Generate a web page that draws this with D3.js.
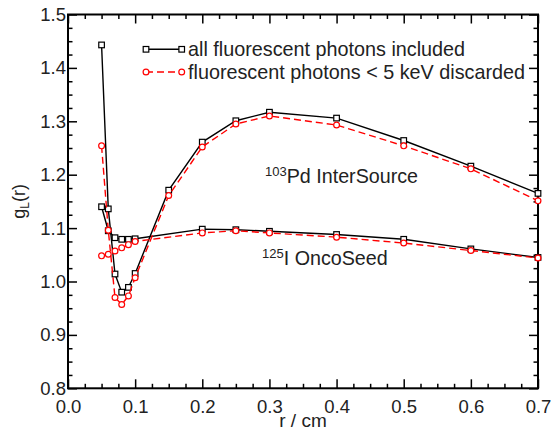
<!DOCTYPE html>
<html>
<head>
<meta charset="utf-8">
<script src="https://cdn.jsdelivr.net/npm/d3@7"></script>
<style>
  html, body { margin: 0; padding: 0; background: #fff; }
  svg { display: block; font-family: "Liberation Sans", Arial, Helvetica, sans-serif; }
</style>
</head>
<body>
<svg id="chart" width="553" height="433"></svg>
<script>
// Radial dose function g_L(r) for two brachytherapy sources
const pdR       = [0.05, 0.06, 0.07, 0.08, 0.09, 0.10, 0.15, 0.20, 0.25, 0.30, 0.40, 0.50, 0.60, 0.70];
const pdAll     = [1.443, 1.136, 1.014, 0.980, 0.989, 1.015, 1.171, 1.261, 1.301, 1.317, 1.306, 1.264, 1.216, 1.165];
const pdCut     = [1.254, 1.096, 0.970, 0.957, 0.973, 1.007, 1.161, 1.252, 1.295, 1.310, 1.293, 1.254, 1.211, 1.151];

const iR        = [0.05, 0.06, 0.07, 0.08, 0.09, 0.10, 0.20, 0.25, 0.30, 0.40, 0.50, 0.60, 0.70];
const iAll      = [1.140, 1.095, 1.082, 1.079, 1.079, 1.080, 1.098, 1.097, 1.094, 1.088, 1.079, 1.061, 1.045];
const iCut      = [1.048, 1.051, 1.057, 1.063, 1.069, 1.075, 1.091, 1.095, 1.091, 1.083, 1.072, 1.058, 1.044];

const xTicks    = [0.0, 0.1, 0.2, 0.3, 0.4, 0.5, 0.6, 0.7];
const yTicks    = [0.8, 0.9, 1.0, 1.1, 1.2, 1.3, 1.4, 1.5];
const legendLabels = ["all fluorescent photons included", "fluorescent photons < 5 keV discarded"];

const svg = d3.select("#chart");
const pl = 68, pr = 538, pt = 14.5, pb = 388.3;

const x = d3.scaleLinear().domain([0, 0.7]).range([pl, pr]);
const y = d3.scaleLinear().domain([0.8, 1.5]).range([pb, pt]);

const minorX = d3.range(0, 0.7001, 0.025).filter(v => Math.abs(v * 10 - Math.round(v * 10)) > 1e-6);
const minorY = d3.range(0.8, 1.5001, 0.025).filter(v => Math.abs(v * 10 - Math.round(v * 10)) > 1e-6);

const tickFont = "18.5px";
const fmt = d3.format(".1f");

function styleAxis(g) {
  g.select(".domain").remove();
  g.selectAll(".tick line").attr("stroke", "#000").attr("stroke-width", 1.5);
}

// bottom axis (labels + major ticks inward)
svg.append("g").attr("transform", `translate(0,${pb})`)
  .call(d3.axisBottom(x).tickValues(xTicks).tickFormat(fmt).tickSizeInner(-9).tickSizeOuter(0).tickPadding(12))
  .call(styleAxis)
  .call(g => g.selectAll("text").attr("font-size", tickFont).attr("fill", "#222").attr("font-family", "Liberation Sans, Arial, sans-serif"));
svg.append("g").attr("transform", `translate(0,${pb})`)
  .call(d3.axisBottom(x).tickValues(minorX).tickFormat("").tickSizeInner(-4.5).tickSizeOuter(0))
  .call(styleAxis);
// top axis
svg.append("g").attr("transform", `translate(0,${pt})`)
  .call(d3.axisTop(x).tickValues(xTicks).tickFormat("").tickSizeInner(-9).tickSizeOuter(0))
  .call(styleAxis);
svg.append("g").attr("transform", `translate(0,${pt})`)
  .call(d3.axisTop(x).tickValues(minorX).tickFormat("").tickSizeInner(-4.5).tickSizeOuter(0))
  .call(styleAxis);
// left axis
svg.append("g").attr("transform", `translate(${pl},0)`)
  .call(d3.axisLeft(y).tickValues(yTicks).tickFormat(fmt).tickSizeInner(-9).tickSizeOuter(0).tickPadding(2))
  .call(styleAxis)
  .call(g => g.selectAll("text").attr("font-size", tickFont).attr("fill", "#222").attr("font-family", "Liberation Sans, Arial, sans-serif"));
svg.append("g").attr("transform", `translate(${pl},0)`)
  .call(d3.axisLeft(y).tickValues(minorY).tickFormat("").tickSizeInner(-4.5).tickSizeOuter(0))
  .call(styleAxis);
// right axis
svg.append("g").attr("transform", `translate(${pr},0)`)
  .call(d3.axisRight(y).tickValues(yTicks).tickFormat("").tickSizeInner(-9).tickSizeOuter(0))
  .call(styleAxis);
svg.append("g").attr("transform", `translate(${pr},0)`)
  .call(d3.axisRight(y).tickValues(minorY).tickFormat("").tickSizeInner(-4.5).tickSizeOuter(0))
  .call(styleAxis);

// frame
svg.append("rect")
  .attr("x", pl).attr("y", pt)
  .attr("width", pr - pl).attr("height", pb - pt)
  .attr("fill", "none").attr("stroke", "#000").attr("stroke-width", 2);

// axis titles
svg.append("text")
  .attr("x", (pl + pr) / 2).attr("y", 427)
  .attr("text-anchor", "middle").attr("font-size", "19px").attr("fill", "#222")
  .text("r / cm");

const yl = svg.append("text")
  .attr("transform", `translate(25,${(pt + pb) / 2}) rotate(-90)`)
  .attr("text-anchor", "middle").attr("font-size", "18px").attr("fill", "#222");
yl.append("tspan").text("g");
yl.append("tspan").attr("font-size", "12px").attr("dy", 4).text("L");
yl.append("tspan").attr("dy", -4).text("(r)");

// series drawing helpers
const line = d3.line().x(d => x(d[0])).y(d => y(d[1]));

function drawAll(rs, vs) {
  const pts = rs.map((r, i) => [r, vs[i]]);
  svg.append("path").datum(pts).attr("d", line)
    .attr("fill", "none").attr("stroke", "#000").attr("stroke-width", 1.4);
  svg.append("g").selectAll("rect").data(pts).join("rect")
    .attr("x", d => x(d[0]) - 2.8).attr("y", d => y(d[1]) - 2.8)
    .attr("width", 5.6).attr("height", 5.6)
    .attr("fill", "#fff").attr("stroke", "#000").attr("stroke-width", 1.2);
}
function drawCut(rs, vs) {
  const pts = rs.map((r, i) => [r, vs[i]]);
  svg.append("path").datum(pts).attr("d", line)
    .attr("fill", "none").attr("stroke", "#f00").attr("stroke-width", 1.4)
    .attr("stroke-dasharray", "7,4");
  svg.append("g").selectAll("circle").data(pts).join("circle")
    .attr("cx", d => x(d[0])).attr("cy", d => y(d[1])).attr("r", 2.9)
    .attr("fill", "#fff").attr("stroke", "#f00").attr("stroke-width", 1.2);
}

drawAll(iR, iAll);
drawAll(pdR, pdAll);
drawCut(iR, iCut);
drawCut(pdR, pdCut);

// source annotations
const pdLab = svg.append("text").attr("x", 265).attr("y", 182.5).attr("font-size", "19.7px").attr("fill", "#222");
pdLab.append("tspan").attr("font-size", "13px").attr("dy", -7).text("103");
pdLab.append("tspan").attr("dy", 7).text("Pd InterSource");

const iLab = svg.append("text").attr("x", 262).attr("y", 264.5).attr("font-size", "19.7px").attr("fill", "#222");
iLab.append("tspan").attr("font-size", "13px").attr("dy", -7).text("125");
iLab.append("tspan").attr("dy", 7).text("I OncoSeed");

// legend
const lg = svg.append("g");
const legY = [49.3, 72];
lg.append("line").attr("x1", 146).attr("x2", 181.7).attr("y1", legY[0]).attr("y2", legY[0])
  .attr("stroke", "#000").attr("stroke-width", 1.4);
[146, 181.7].forEach(px => lg.append("rect").attr("x", px - 2.8).attr("y", legY[0] - 2.8)
  .attr("width", 5.6).attr("height", 5.6).attr("fill", "#fff").attr("stroke", "#000").attr("stroke-width", 1.2));
lg.append("line").attr("x1", 146).attr("x2", 181.7).attr("y1", legY[1]).attr("y2", legY[1])
  .attr("stroke", "#f00").attr("stroke-width", 1.4).attr("stroke-dasharray", "7,4");
[146, 181.7].forEach(px => lg.append("circle").attr("cx", px).attr("cy", legY[1]).attr("r", 2.9)
  .attr("fill", "#fff").attr("stroke", "#f00").attr("stroke-width", 1.2));
legendLabels.forEach((t, i) => lg.append("text")
  .attr("x", 188).attr("y", legY[i] + 6.5).attr("font-size", "19.8px").attr("fill", "#222").text(t));
</script>
</body>
</html>
